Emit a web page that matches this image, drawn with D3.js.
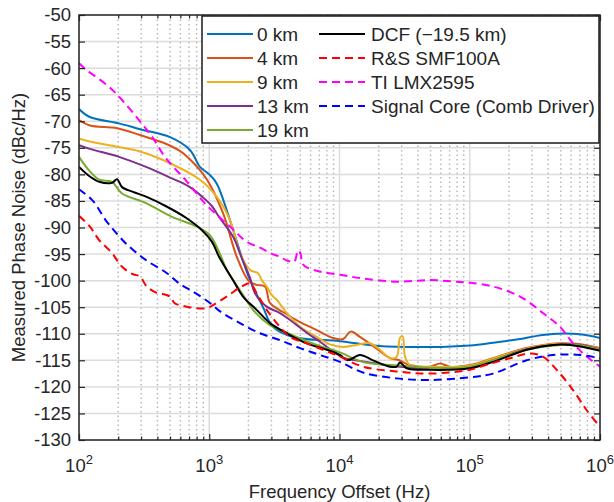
<!DOCTYPE html>
<html><head><meta charset="utf-8">
<script src="https://cdn.jsdelivr.net/npm/d3@7/dist/d3.min.js"></script>
<style>body{margin:0;background:#fff} text{font-family:"Liberation Sans",Arial,Helvetica,sans-serif;fill:#262626}</style>
</head><body><svg id="chart" width="614" height="502"></svg>
<script>
// ---- data ----
const yTicks = [-130,-125,-120,-115,-110,-105,-100,-95,-90,-85,-80,-75,-70,-65,-60,-55,-50];
const xTickExps = [2,3,4,5,6];
const seriesNames = ["0 km","4 km","9 km","13 km","19 km","DCF (\u221219.5 km)","R&S SMF100A","TI LMX2595","Signal Core (Comb Driver)"];
const seriesColors = ["#0072BD","#D95319","#EDB120","#7E2F8E","#77AC30","#000000","#FF0000","#FF00FF","#0000FF"];
const seriesDashed = [false,false,false,false,false,false,true,true,true];

const f0km = [100,121,203,294,500,711,849,1000,1140,1442,1782,2056,2588,3083,4395,10090,20000,50000,100500,150700,243200,326600,470000,700000,1000000];
const v0km = [-67.7,-69.2,-70.4,-71.5,-73,-75.4,-78.6,-80,-81.7,-88.6,-95.7,-99.9,-105,-108.7,-110.6,-111.4,-112.3,-112.5,-112.2,-111.7,-111,-110.4,-110,-110.1,-110.8];

const f4km = [100,121,196,294,440,586,700,962,1276,1626,2000,2312,2679,2924,3681,4977,6683,8913,10640,12200,14350,19320,24430,28120,34750,49550,59160,70470,100500,150700,273500,493200,662200,1000000];
const v4km = [-69.8,-70.8,-71.3,-72.6,-74,-75.5,-77,-81,-87.3,-95.5,-100,-100.8,-101.1,-104.2,-105.9,-107.8,-109.3,-110.8,-111,-109.6,-110.6,-112.8,-114.6,-114.9,-115.9,-116.2,-115.6,-116.2,-115.9,-114.6,-112.7,-111.8,-111.9,-112.7];

const f9km = [100,121,196,294,500,849,1140,1442,1722,2056,2366,2529,2761,3013,3296,3936,4977,6683,8453,10640,13550,17140,20460,24430,27480,29110,30550,31840,34750,49550,100500,150700,273500,493200,662200,1000000];
const v9km = [-73.3,-73.8,-74.8,-75.7,-77.9,-81,-84.2,-88.6,-94.8,-98,-98.6,-99.9,-101.1,-102.7,-103.6,-106.1,-108.7,-110.6,-112,-112.5,-112.1,-111.8,-113,-114.6,-114.3,-110.8,-110.5,-114.3,-115.9,-116.2,-116,-114.7,-112.8,-111.9,-112,-112.8];

const f13km = [100,121,203,327,500,700,940,1050,1189,1521,1774,2056,2244,2761,3491,4169,5598,7079,8913,10640,16000,29110,50000,100500,150700,273500,493200,662200,1000000];
const v13km = [-74.5,-75.2,-76.7,-78.6,-80.6,-82.3,-84.8,-86,-88,-91.7,-95.7,-99.5,-102.4,-104.9,-106.1,-107.4,-109.8,-111.5,-113.3,-114.5,-115.3,-116.2,-116.6,-116.3,-115,-112.9,-112,-112,-112.9];

const f19km = [100,119,143,179,214,327,518,800,1014,1211,1361,1722,2168,2924,3936,6683,10090,15140,30000,50000,100500,150700,273500,493200,662200,1000000];
const v19km = [-76.7,-79.2,-81,-81.4,-83.6,-85.4,-88,-89.8,-91.5,-95,-98,-101.8,-105.5,-108.4,-109.8,-112.1,-113.5,-115.3,-116,-116.4,-116.2,-115,-113,-112.1,-112.1,-113];

const fDCF = [100,121,143,179,196,214,260,327,466,675,879,1050,1189,1521,1816,2312,2924,3936,5598,7980,10090,11500,14350,18070,24430,27480,29110,32810,49550,100500,150700,273500,435500,588800,1000000];
const vDCF = [-78.6,-80.4,-81.4,-81.6,-80.9,-82.4,-83.3,-84.2,-86,-88.3,-90.5,-92.7,-95.5,-99.9,-103,-105.5,-108,-109.9,-111.8,-113,-114,-115,-114,-115,-116.2,-116.2,-115.4,-116.5,-116.8,-116.5,-115.3,-113,-112.1,-112.1,-113.2];

const fRS = [100,121,143,179,214,260,294,331,395,470,510,540,671,955,1069,1361,1774,2056,2312,2761,3491,4169,5598,7980,10090,15140,27480,49550,100500,119900,203700,290400,364800,465600,620900,790700,1000000];
const vRS = [-87.8,-89.8,-92.4,-94.8,-97.4,-98.8,-99.2,-101.1,-102.3,-102.7,-103.2,-104.2,-104.9,-105.2,-104.6,-103,-101.1,-100.5,-102.4,-105.5,-108.7,-110.6,-111.8,-113.3,-114.3,-116.2,-117.1,-117.5,-116.8,-116.2,-114.6,-113.7,-114.3,-116.8,-120.6,-124.4,-127.5];

const fTI = [100,115,170,214,289,363,466,671,955,1442,1941,2455,2924,3491,3936,4500,4797,5000,5200,5598,7079,10090,15140,27480,49550,79430,100500,150700,243200,364800,493200,620900,790700,1000000];
const vTI = [-59.1,-60.4,-63.5,-66,-69.8,-72.9,-77,-81.3,-85.8,-89.8,-92.7,-93.8,-94.8,-95.5,-96.2,-96.4,-94.3,-94.8,-96.8,-97.5,-98.3,-98.9,-99.6,-100.2,-99.9,-100.2,-100.4,-101.1,-103,-106.1,-108.7,-111.8,-114.3,-116.2];

const fSC = [100,128,160,182,229,325,474,586,791,1050,1211,1722,2455,3491,4977,7079,10090,15140,27480,49550,100500,150700,273500,435500,701500,1000000];
const vSC = [-82.8,-85,-88.6,-90.3,-93,-96.1,-98.6,-100.5,-102.4,-104.5,-105.8,-108,-109.9,-111.2,-112.7,-114,-115.3,-117.3,-118.4,-118.7,-118.2,-117.5,-115,-114,-114,-114.6];

const seriesFreqs = [f0km,f4km,f9km,f13km,f19km,fDCF,fRS,fTI,fSC];
const seriesVals = [v0km,v4km,v9km,v13km,v19km,vDCF,vRS,vTI,vSC];

// ---- layout ----
const L=79, R=600, T=15, B=440;
const svg = d3.select("#chart");
const x = d3.scaleLog().domain([1e2,1e6]).range([L,R]);
const y = d3.scaleLinear().domain([-130,-50]).range([B,T]);
const xMajor = xTickExps.map(e=>Math.pow(10,e));
const xMinor = [];
for (let e=2;e<6;e++) for (let k=2;k<=9;k++) xMinor.push(k*Math.pow(10,e));

// grid
const grid = svg.append("g");
grid.selectAll("line.xmin").data(xMinor).join("line")
  .attr("x1",d=>x(d)).attr("x2",d=>x(d)).attr("y1",T).attr("y2",B)
  .attr("stroke","#b8b8b8").attr("stroke-width",1.5).attr("stroke-dasharray","1.5,3");
grid.selectAll("line.ymaj").data(yTicks).join("line")
  .attr("x1",L).attr("x2",R).attr("y1",d=>y(d)).attr("y2",d=>y(d))
  .attr("stroke","#dcdcdc").attr("stroke-width",1.5);
grid.selectAll("line.xmaj").data(xMajor).join("line")
  .attr("x1",d=>x(d)).attr("x2",d=>x(d)).attr("y1",T).attr("y2",B)
  .attr("stroke","#dcdcdc").attr("stroke-width",1.5);

// curves
svg.append("clipPath").attr("id","clip").append("rect").attr("x",L).attr("y",T).attr("width",R-L).attr("height",B-T);
const line = d3.line().x(d=>x(d[0])).y(d=>y(d[1])).curve(d3.curveCatmullRom.alpha(0.5));
const gLines = svg.append("g").attr("clip-path","url(#clip)");
seriesNames.forEach((n,i)=>{
  const pts = seriesFreqs[i].map((f,j)=>[f,seriesVals[i][j]]);
  gLines.append("path").datum(pts).attr("d",line).attr("fill","none")
    .attr("stroke",seriesColors[i]).attr("stroke-width",2)
    .attr("stroke-linejoin","round")
    .attr("stroke-dasharray",seriesDashed[i]?"8,5":null);
});

// axes (ticks inward)
function clean(g){g.select(".domain").remove(); g.selectAll("line").attr("stroke","#262626").attr("stroke-width",1.2);}
svg.append("g").attr("transform",`translate(0,${B})`).call(d3.axisBottom(x).tickValues(xMajor).tickSizeInner(-6).tickSizeOuter(0).tickFormat(()=>"")).call(clean);
svg.append("g").attr("transform",`translate(0,${B})`).call(d3.axisBottom(x).tickValues(xMinor).tickSizeInner(-3.5).tickSizeOuter(0).tickFormat(()=>"")).call(clean);
svg.append("g").attr("transform",`translate(0,${T})`).call(d3.axisTop(x).tickValues(xMajor).tickSizeInner(-6).tickSizeOuter(0).tickFormat(()=>"")).call(clean);
svg.append("g").attr("transform",`translate(0,${T})`).call(d3.axisTop(x).tickValues(xMinor).tickSizeInner(-3.5).tickSizeOuter(0).tickFormat(()=>"")).call(clean);
svg.append("g").attr("transform",`translate(${L},0)`).call(d3.axisLeft(y).tickValues(yTicks).tickSizeInner(-6).tickSizeOuter(0).tickFormat(()=>"")).call(clean);
svg.append("g").attr("transform",`translate(${R},0)`).call(d3.axisRight(y).tickValues(yTicks).tickSizeInner(-6).tickSizeOuter(0).tickFormat(()=>"")).call(clean);

// tick labels
svg.append("g").selectAll("text").data(yTicks).join("text")
  .attr("x",L-8).attr("y",d=>y(d)).attr("dy","0.35em").attr("text-anchor","end")
  .attr("font-size",18.5).text(d=>d);
const xl = svg.append("g").selectAll("text").data(xTickExps).join("text")
  .attr("x",d=>x(Math.pow(10,d))).attr("y",472).attr("text-anchor","middle").attr("font-size",18.5);
xl.append("tspan").text("10");
xl.append("tspan").attr("dy",-8).attr("font-size",13).text(d=>d);

// axis titles
svg.append("text").attr("x",(L+R)/2).attr("y",498).attr("text-anchor","middle").attr("font-size",18.5).text("Frequency Offset (Hz)");
svg.append("text").attr("transform",`translate(25,${(T+B)/2}) rotate(-90)`).attr("text-anchor","middle").attr("font-size",18.5).text("Measured Phase Noise (dBc/Hz)");

// legend
const lg = svg.append("g");
lg.append("rect").attr("x",202).attr("y",16).attr("width",397).attr("height",127).attr("fill","#fff").attr("stroke","#1a1a1a").attr("stroke-width",1.5);
seriesNames.forEach((n,i)=>{
  const col = i<5?0:1, row = i<5?i:i-5;
  const lx = col===0?207:319, tx = col===0?257:371;
  const ly = 34 + row*24;
  lg.append("line").attr("x1",lx).attr("x2",lx+46).attr("y1",ly).attr("y2",ly)
    .attr("stroke",seriesColors[i]).attr("stroke-width",2)
    .attr("stroke-dasharray",seriesDashed[i]?"8,5":null);
  lg.append("text").attr("x",tx).attr("y",ly).attr("dy","0.35em").attr("font-size",19).text(n);
});

// box
svg.append("rect").attr("x",L).attr("y",T).attr("width",R-L).attr("height",B-T).attr("fill","none").attr("stroke","#262626").attr("stroke-width",1.5);
</script></body></html>
